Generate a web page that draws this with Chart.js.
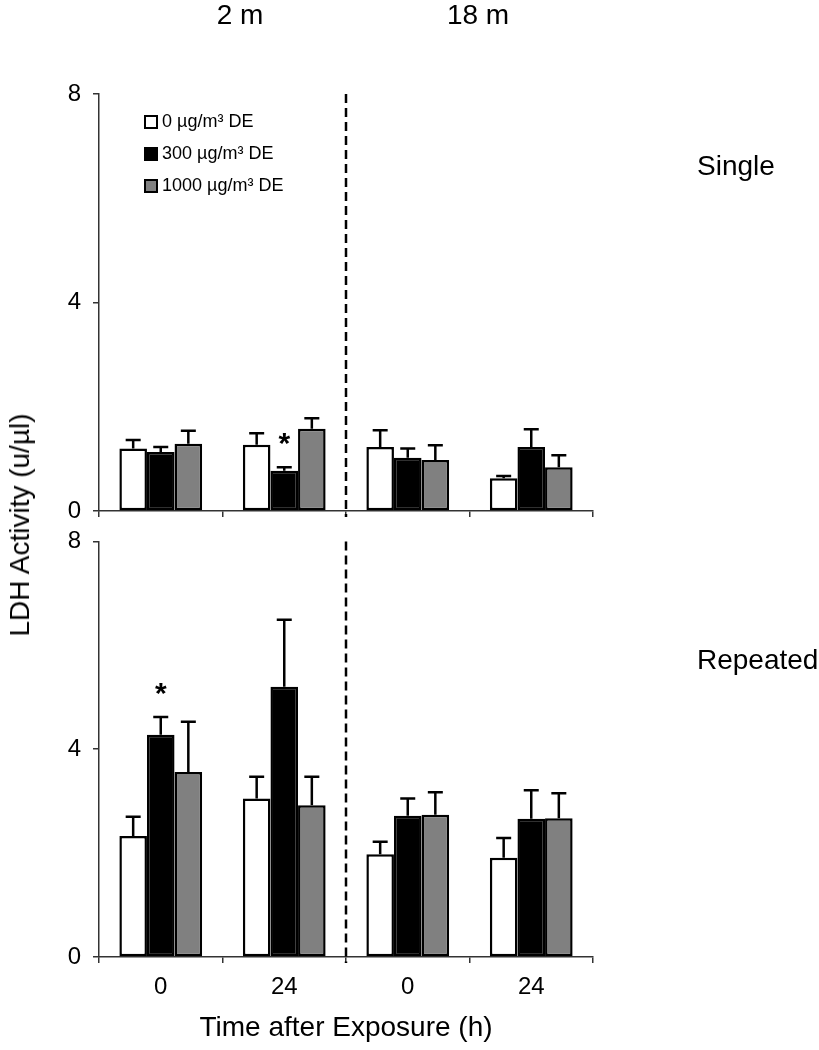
<!DOCTYPE html>
<html>
<head>
<meta charset="utf-8">
<script src="https://cdn.jsdelivr.net/npm/chart.js@4.4.1/dist/chart.umd.min.js"></script>
<style>
    body { margin: 0; background: #fff; }
    #wrap { position: relative; width: 819px; height: 1050px; font-family: "Liberation Sans", Arial, sans-serif; color: #000; }
    canvas { position: absolute; left: 0; }
    .lbl { position: absolute; font-size: 28px; white-space: nowrap; line-height: 1; }
    #yTitle { left: 20px; top: 525px; transform: translate(-50%, -50%) rotate(-90deg); }
</style>
</head>
<body>
<div id="wrap">
    <canvas id="singleChart" width="819" height="540" style="top:0"></canvas>
    <canvas id="repeatedChart" width="819" height="535" style="top:515px"></canvas>
    <div class="lbl" style="left:240px; top:15px; transform:translate(-50%,-50%)">2 m</div>
    <div class="lbl" style="left:478px; top:15px; transform:translate(-50%,-50%)">18 m</div>
    <div class="lbl" style="left:697px; top:166px; transform:translateY(-50%)">Single</div>
    <div class="lbl" style="left:697px; top:660px; transform:translateY(-50%)">Repeated</div>
    <div class="lbl" id="yTitle">LDH Activity (u/µl)</div>
</div>
<script>
const groups = ['0', '24', '0', '24'];
const seriesLabels = ['0 µg/m³ DE', '300 µg/m³ DE', '1000 µg/m³ DE'];
const yTicks = [0, 4, 8];

const singleCtrl = [1.20, 1.27, 1.23, 0.63];
const singleCtrlErr = [0.16, 0.22, 0.32, 0.04];
const single300 = [1.13, 0.77, 1.02, 1.23];
const single300Err = [0.10, 0.07, 0.18, 0.34];
const single1000 = [1.29, 1.58, 0.98, 0.84];
const single1000Err = [0.25, 0.20, 0.28, 0.23];
const singleStar300 = [false, true, false, false];

const repeatedCtrl = [2.33, 3.05, 1.98, 1.91];
const repeatedCtrlErr = [0.37, 0.42, 0.24, 0.38];
const repeated300 = [4.28, 5.20, 2.72, 2.66];
const repeated300Err = [0.34, 1.29, 0.33, 0.55];
const repeated1000 = [3.56, 2.92, 2.74, 2.67];
const repeated1000Err = [0.97, 0.55, 0.43, 0.48];
const repeatedStar300 = [true, false, false, false];

const FONT = '"Liberation Sans", Arial, sans-serif';
const fills = ['#ffffff', '#000000', '#808080'];

// error bars, stars and the dashed divider
const extrasPlugin = {
    id: 'extras',
    afterDatasetsDraw(chart) {
        let ctx = chart.ctx;
        let y = chart.scales.y;
        let x = chart.scales.x;
        ctx.save();
        chart.data.datasets.forEach(function (ds, i) {
            let meta = chart.getDatasetMeta(i);
            meta.data.forEach(function (bar, j) {
                let top = y.getPixelForValue(ds.data[j] + ds.errors[j]);
                ctx.strokeStyle = '#000';
                ctx.lineWidth = 2.5;
                ctx.beginPath();
                ctx.moveTo(bar.x, bar.y);
                ctx.lineTo(bar.x, top);
                ctx.moveTo(bar.x - 7.5, top);
                ctx.lineTo(bar.x + 7.5, top);
                ctx.stroke();
                if (ds.stars && ds.stars[j]) {
                    ctx.fillStyle = '#000';
                    ctx.font = 'bold 30px ' + FONT;
                    ctx.textAlign = 'center';
                    ctx.textBaseline = 'middle';
                    ctx.fillText('*', bar.x, top - 22);
                }
            });
        });
        let mid = (x.getPixelForValue(1) + x.getPixelForValue(2)) / 2;
        ctx.setLineDash([9, 5]);
        ctx.lineWidth = 2.5;
        ctx.beginPath();
        ctx.moveTo(mid, chart.chartArea.top);
        ctx.lineTo(mid, chart.chartArea.bottom + 6);
        ctx.stroke();
        ctx.restore();
    }
};

// legend inside the plot area
const legendPlugin = {
    id: 'innerLegend',
    afterDraw(chart, args, opts) {
        if (!opts.show) return;
        let ctx = chart.ctx;
        ctx.save();
        ctx.font = '18px ' + FONT;
        ctx.textBaseline = 'middle';
        chart.data.datasets.forEach(function (ds, i) {
            let yy = 122 + i * 32;
            ctx.fillStyle = ds.backgroundColor;
            ctx.fillRect(145, yy - 6, 12, 12);
            ctx.strokeStyle = '#000';
            ctx.lineWidth = 2;
            ctx.strokeRect(145, yy - 6, 12, 12);
            ctx.fillStyle = '#000';
            ctx.fillText(ds.label, 162, yy);
        });
        ctx.restore();
    }
};

function makeDatasets(values, errors, stars) {
    return values.map(function (v, i) {
        return {
            label: seriesLabels[i],
            data: v,
            errors: errors[i],
            stars: stars[i],
            backgroundColor: fills[i],
            borderColor: '#000',
            borderWidth: 2.5,
            borderSkipped: false,
            categoryPercentage: 0.67,
            barPercentage: 1.0
        };
    });
}

function makeChart(id, datasets, isTop) {
    let ctx = document.getElementById(id).getContext('2d');
    return new Chart(ctx, {
        type: 'bar',
        data: { labels: groups, datasets: datasets },
        options: {
            responsive: false,
            animation: false,
            layout: { padding: { left: 0, right: 226, top: isTop ? 94 : 26, bottom: 0 } },
            plugins: {
                legend: { display: false },
                tooltip: { enabled: false },
                innerLegend: { show: isTop }
            },
            scales: {
                x: {
                    offset: true,
                    grid: { offset: true, drawOnChartArea: false, tickLength: 6, color: '#333', lineWidth: 1.5 },
                    border: { color: '#333', width: 1.5 },
                    ticks: { display: !isTop, color: '#000', padding: 10, font: { family: FONT, size: 24 } },
                    title: {
                        display: !isTop,
                        text: 'Time after Exposure (h)',
                        color: '#000',
                        font: { family: FONT, size: 28 },
                        padding: { top: 0, bottom: 5 }
                    },
                    afterFit: function (scale) { scale.height = isTop ? 29 : 93; }
                },
                y: {
                    min: 0,
                    max: 8,
                    afterBuildTicks: function (scale) { scale.ticks = yTicks.map(v => ({ value: v })); },
                    grid: { drawOnChartArea: false, tickLength: 6, color: '#333', lineWidth: 1.5 },
                    border: { color: '#333', width: 1.5 },
                    ticks: { color: '#000', padding: 12, font: { family: FONT, size: 24 } },
                    afterFit: function (scale) { scale.width = 99; }
                }
            }
        },
        plugins: [extrasPlugin, legendPlugin]
    });
}

makeChart('singleChart', makeDatasets(
    [singleCtrl, single300, single1000],
    [singleCtrlErr, single300Err, single1000Err],
    [null, singleStar300, null]), true);

makeChart('repeatedChart', makeDatasets(
    [repeatedCtrl, repeated300, repeated1000],
    [repeatedCtrlErr, repeated300Err, repeated1000Err],
    [null, repeatedStar300, null]), false);
</script>
</body>
</html>
